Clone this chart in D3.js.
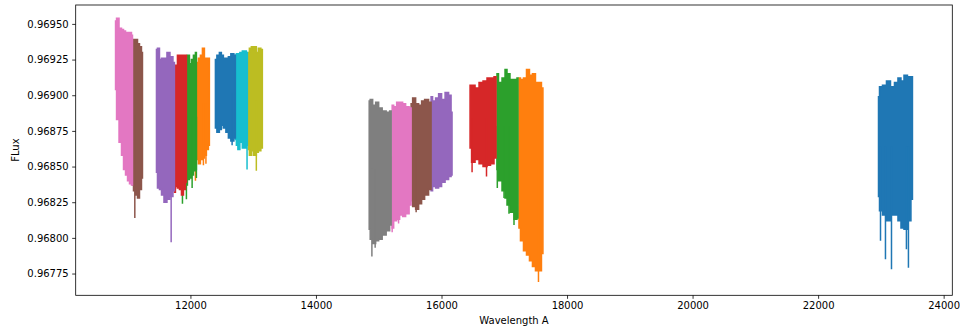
<!DOCTYPE html>
<html>
<head>
<meta charset="utf-8">
<script src="https://cdn.jsdelivr.net/npm/d3@7"></script>
<style>
  body { margin: 0; background: #fff; }
  svg { display: block; }
  text { font-family: "DejaVu Sans", sans-serif; fill: #000; }
</style>
</head>
<body>
<div id="chart"></div>
<script>
// spectrum chunks, plotted in this order (colour = tab10 cycle by index)
// each row: [wavelength A, upper flux, lower flux]
const s0 = [[22962, .96899, .96829], [22994, .96906, .96819], [23057, .96907, .96816], [23121, .96910, .96812],
  [23185, .96906, .96816], [23248, .96909, .96816], [23296, .96912, .96812], [23344, .96910, .96807],
  [23392, .96914, .96806], [23455, .96913, .96812], [23503, .96913, .96827]];
const s1 = [[17234, .96912, .96807], [17282, .96911, .96798], [17330, .96912, .96791], [17378, .96918, .96788],
  [17425, .96914, .96784], [17473, .96915, .96780], [17521, .96909, .96777], [17569, .96909, .96777],
  [17616, .96905, .96789]];
const s2 = [[16884, .96915, .96848], [16932, .96909, .96840], [16996, .96912, .96833], [17028, .96918, .96828],
  [17059, .96915, .96823], [17123, .96911, .96818], [17187, .96911, .96813], [17218, .96912, .96814]];
const s3 = [[16455, .96907, .96863], [16503, .96907, .96853], [16566, .96905, .96855], [16630, .96909, .96852],
  [16693, .96910, .96850], [16757, .96912, .96851], [16805, .96912, .96852], [16868, .96913, .96856]];
const s4 = [[15834, .96899, .96833], [15882, .96896, .96836], [15930, .96898, .96835], [15978, .96901, .96836],
  [16025, .96897, .96839], [16089, .96902, .96841], [16137, .96900, .96843], [16168, .96888, .96844]];
const s5 = [[15516, .96894, .96826], [15564, .96898, .96822], [15612, .96894, .96820], [15659, .96893, .96824],
  [15707, .96896, .96827], [15755, .96897, .96830], [15834, .96895, .96834]];
const s6 = [[15214, .96893, .96807], [15262, .96892, .96812], [15309, .96895, .96813], [15357, .96895, .96816],
  [15405, .96894, .96815], [15452, .96892, .96817], [15516, .96891, .96823]];
const s7 = [[14848, .96896, .96806], [14880, .96897, .96799], [14927, .96893, .96796], [14975, .96895, .96798],
  [15023, .96891, .96799], [15087, .96889, .96802], [15150, .96888, .96805], [15198, .96889, .96809]];
const s8 = [[12923, .96930, .96862], [12955, .96933, .96858], [12986, .96934, .96861], [13018, .96932, .96858],
  [13034, .96934, .96858], [13066, .96930, .96860], [13098, .96933, .96861], [13146, .96932, .96863]];
const s9 = [[12716, .96928, .96869], [12748, .96929, .96865], [12764, .96929, .96862], [12811, .96930, .96867],
  [12843, .96931, .96863], [12875, .96931, .96863], [12907, .96930, .96865]];
const s10 = [[12398, .96925, .96877], [12445, .96928, .96874], [12477, .96930, .96876], [12509, .96928, .96879],
  [12541, .96926, .96877], [12589, .96926, .96874], [12620, .96927, .96870], [12668, .96929, .96868],
  [12716, .96928, .96870]];
const s11 = [[12111, .96923, .96855], [12143, .96926, .96852], [12175, .96928, .96855], [12207, .96933, .96856],
  [12239, .96926, .96858], [12270, .96926, .96862], [12302, .96926, .96865]];
const s12 = [[11936, .96927, .96837], [11968, .96928, .96841], [12000, .96922, .96842], [12032, .96925, .96844],
  [12064, .96928, .96847], [12095, .96930, .96848]];
const s13 = [[11745, .96921, .96832], [11777, .96921, .96836], [11809, .96928, .96835], [11841, .96928, .96834],
  [11873, .96928, .96830], [11905, .96928, .96834], [11936, .96928, .96839]];
const s14 = [[11459, .96932, .96846], [11491, .96933, .96835], [11523, .96925, .96834], [11555, .96926, .96830],
  [11602, .96926, .96825], [11650, .96930, .96827], [11698, .96927, .96829], [11745, .96923, .96833]];
const s15 = [[11077, .96937, .96837], [11109, .96939, .96833], [11141, .96939, .96830], [11173, .96936, .96828],
  [11204, .96934, .96834], [11236, .96930, .96842]];
const s16 = [[10807, .96952, .96904], [10839, .96954, .96883], [10886, .96947, .96867], [10918, .96946, .96858],
  [10950, .96945, .96848], [10982, .96944, .96844], [11014, .96944, .96840], [11045, .96944, .96838],
  [11077, .96942, .96837]];

// single deep dips: [chunk index, wavelength, flux]
const spikes = [[0, 22994, .96798], [0, 23073, .96785], [0, 23169, .96778], [0, 23407, .96792], [0, 23439, .96779],
  [1, 17545, .96769], [2, 16889, .96835], [2, 16996, .96828], [2, 17075, .96817], [2, 17155, .96809],
  [3, 16487, .96846], [3, 16717, .96843], [5, 15596, .96818], [6, 15214, .96804], [6, 15316, .96810],
  [7, 14891, .96787], [7, 14943, .96793], [8, 13050, .96847], [9, 12902, .96848], [10, 12664, .96865],
  [11, 12080, .96840], [11, 12207, .96851], [11, 12247, .96852], [12, 11873, .96824], [12, 11936, .96827],
  [12, 12027, .96835], [12, 12095, .96842], [14, 11693, .96797], [15, 11114, .96814]];

const xTicks = [12000, 14000, 16000, 18000, 20000, 22000, 24000];
const yTicks = [0.96775, 0.96800, 0.96825, 0.96850, 0.96875, 0.96900, 0.96925, 0.96950];

const chunks = [s0, s1, s2, s3, s4, s5, s6, s7, s8, s9, s10, s11, s12, s13, s14, s15, s16];
const tab10 = ["#1f77b4", "#ff7f0e", "#2ca02c", "#d62728", "#9467bd",
               "#8c564b", "#e377c2", "#7f7f7f", "#bcbd22", "#17becf"];

const W = 960, H = 331;
const margin = { left: 75.7, top: 5, right: 960 - 952.3, bottom: 331 - 295.3 };

const svg = d3.select("#chart").append("svg").attr("width", W).attr("height", H);

// matplotlib-like 5% margins around the data
const allWl = chunks.flat().map(d => d[0]);
const allF = chunks.flat().flatMap(d => [d[1], d[2]]).concat(spikes.map(d => d[2]));
const xe = d3.extent(allWl), ye = d3.extent(allF);
const xp = (xe[1] - xe[0]) * 0.05, yp = (ye[1] - ye[0]) * 0.05;

const x = d3.scaleLinear().domain([xe[0] - xp, xe[1] + xp]).range([margin.left, W - margin.right]);
const y = d3.scaleLinear().domain([ye[0] - yp, ye[1] + yp]).range([H - margin.bottom, margin.top]);

const plot = svg.append("g");
plot.append("clipPath").attr("id", "clip").append("rect")
  .attr("x", margin.left).attr("y", margin.top)
  .attr("width", W - margin.left - margin.right).attr("height", H - margin.top - margin.bottom);

const area = d3.area()
  .x(d => x(d[0]))
  .y0(d => y(d[2]))
  .y1(d => y(d[1]))
  .curve(d3.curveStep);

chunks.forEach((c, i) => {
  const col = tab10[i % 10];
  const g = plot.append("g").attr("clip-path", "url(#clip)");
  g.append("path").datum(c).attr("d", area)
    .attr("fill", col).attr("stroke", col).attr("stroke-width", 1.5);
  const mid = (d3.min(c, d => d[1]) + d3.max(c, d => d[2])) / 2;
  g.selectAll("line").data(spikes.filter(s => s[0] === i)).join("line")
    .attr("x1", d => x(d[1])).attr("x2", d => x(d[1]))
    .attr("y1", d => y(d[2])).attr("y2", y(mid))
    .attr("stroke", col).attr("stroke-width", 1.5);
});

// axes
const xAxis = d3.axisBottom(x).tickValues(xTicks).tickFormat(d3.format("d")).tickSize(3.5).tickPadding(3.5);
const yAxis = d3.axisLeft(y).tickValues(yTicks).tickFormat(d3.format(".5f")).tickSize(3.5).tickPadding(3.5);

const gx = svg.append("g").attr("transform", `translate(0,${H - margin.bottom})`).call(xAxis);
const gy = svg.append("g").attr("transform", `translate(${margin.left},0)`).call(yAxis);
[gx, gy].forEach(g => {
  g.select(".domain").remove();
  g.selectAll(".tick line").attr("stroke", "#000").attr("stroke-width", 0.8);
  g.selectAll(".tick text").attr("font-size", 10).attr("font-family", "DejaVu Sans").attr("fill", "#000");
});

// frame
svg.append("rect")
  .attr("x", margin.left).attr("y", margin.top)
  .attr("width", W - margin.left - margin.right).attr("height", H - margin.top - margin.bottom)
  .attr("fill", "none").attr("stroke", "#000").attr("stroke-width", 0.8);

svg.append("text")
  .attr("x", (margin.left + W - margin.right) / 2).attr("y", 324)
  .attr("text-anchor", "middle").attr("font-size", 10)
  .text("Wavelength A");

svg.append("text")
  .attr("transform", `translate(19,${(margin.top + H - margin.bottom) / 2}) rotate(-90)`)
  .attr("text-anchor", "middle").attr("font-size", 10)
  .text("FLux");
</script>
</body>
</html>
